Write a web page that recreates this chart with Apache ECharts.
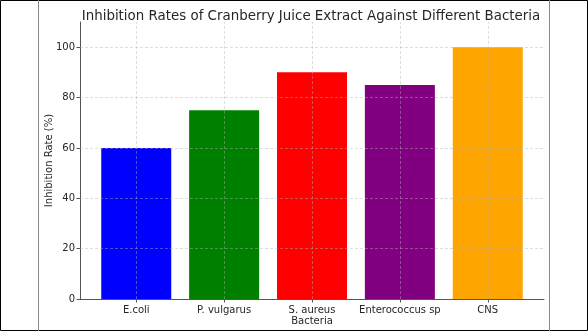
<!DOCTYPE html>
<html>
<head>
<meta charset="utf-8">
<script src="https://cdn.jsdelivr.net/npm/echarts@6/dist/echarts.min.js"></script>
<style>
html,body{margin:0;padding:0;background:#fff;}
#c{width:588px;height:331px;}
</style>
</head>
<body>
<div id="c"></div>
<script>
var categories = ['E.coli', 'P. vulgarus', 'S. aureus', 'Enterococcus sp', 'CNS'];
var values = [60, 75, 90, 85, 100];
var colors = ['#0000ff', '#008000', '#ff0000', '#800080', '#ffa500'];
var yTicks = [0, 20, 40, 60, 80, 100];

var positions = categories.map(function (c, i) { return i; });
var font = 'DejaVu Sans';
var gridStyle = { color: 'rgba(176,176,176,0.55)', width: 0.8, type: [3, 2] };

var markData = positions.map(function (p) { return { xAxis: p }; })
  .concat(yTicks.slice(1).map(function (v) { return { yAxis: v }; }));

var chart = echarts.init(document.getElementById('c'));
chart.setOption({
  animation: false,
  backgroundColor: '#fff',
  title: {
    text: 'Inhibition Rates of Cranberry Juice Extract Against Different Bacteria',
    left: 306, textAlign: 'center', top: 5,
    textStyle: { fontFamily: font, fontSize: 13.4, fontWeight: 'normal', color: '#262626' }
  },
  grid: { left: 80, right: 44, top: 22, bottom: 32, containLabel: false, outerBoundsMode: 'none' },
  xAxis: {
    type: 'value', min: -0.64, max: 4.64,
    name: 'Bacteria', nameLocation: 'middle', nameGap: 17, nameMoveOverlap: false,
    nameTextStyle: { fontFamily: font, fontSize: 10, color: '#262626' },
    axisLine: { onZero: false, lineStyle: { color: '#555', width: 1 } },
    axisTick: { show: true, length: 3.5, customValues: positions, lineStyle: { color: '#555' } },
    axisLabel: {
      customValues: positions, margin: 6,
      fontFamily: font, fontSize: 10, color: '#262626',
      formatter: function (v) { return categories[Math.round(v)]; }
    },
    splitLine: { show: false }
  },
  yAxis: {
    type: 'value', min: 0, max: 110,
    name: 'Inhibition Rate (%)', nameLocation: 'middle', nameGap: 26, nameRotate: 90, nameMoveOverlap: false,
    nameTextStyle: { fontFamily: font, fontSize: 10, color: '#262626' },
    axisLine: { show: true, onZero: false, lineStyle: { color: '#555', width: 1 } },
    axisTick: { show: true, length: 3.5, customValues: yTicks, lineStyle: { color: '#555' } },
    axisLabel: { customValues: yTicks, margin: 5, fontFamily: font, fontSize: 10, color: '#262626' },
    splitLine: { show: false }
  },
  series: [{
    type: 'bar',
    barWidth: 70,
    data: values.map(function (v, i) {
      return { value: [positions[i], v], itemStyle: { color: colors[i] } };
    }),
    markLine: {
      silent: true, symbol: 'none', z: 10,
      label: { show: false },
      lineStyle: gridStyle,
      data: markData
    }
  }],
  graphic: [
    { type: 'rect', shape: { x: 0.5, y: 0.5, width: 587, height: 330 }, style: { fill: 'none', stroke: '#000', lineWidth: 1 }, z: 100 },
    { type: 'line', shape: { x1: 38.5, y1: 0, x2: 38.5, y2: 331 }, style: { stroke: '#888', lineWidth: 1 }, z: 100 },
    { type: 'line', shape: { x1: 549.5, y1: 0, x2: 549.5, y2: 331 }, style: { stroke: '#888', lineWidth: 1 }, z: 100 }
  ]
});
</script>
</body>
</html>
